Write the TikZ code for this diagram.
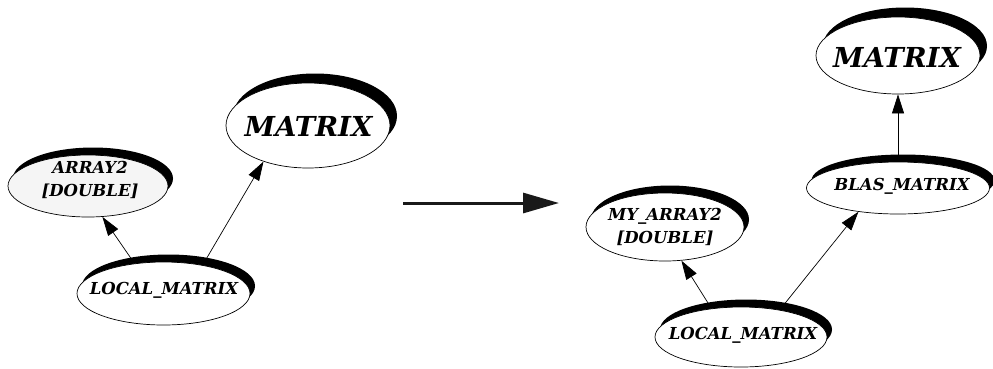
\documentclass[tikz,border=0pt]{standalone}
\usepackage{fontspec}
\setmainfont{DejaVu Serif}
\usetikzlibrary{shapes.geometric,shadows,arrows.meta}
\begin{document}
\begin{tikzpicture}[x=1pt,y=-1pt,
  oval/.style={ellipse, draw=black, line width=0.7pt, fill=white, inner sep=0pt,
    general shadow={fill=black, shadow xshift=5pt, shadow yshift=7.5pt}},
  bigoval/.style={ellipse, draw=black, line width=0.7pt, fill=white, inner sep=0pt,
    general shadow={fill=black, shadow xshift=7pt, shadow yshift=9.5pt}},
  lbl/.style={font=\bfseries\itshape\fontsize{16.5}{23}\selectfont, align=center, inner sep=0pt},
  biglbl/.style={font=\bfseries\itshape\fontsize{27.5}{32}\selectfont, inner sep=0pt},
  arr/.style={line width=0.7pt, -{Triangle[length=19pt,width=12pt]}},
  bigarr/.style={line width=3pt, draw=black!90, -{Triangle[length=36pt,width=20pt]}}]
\useasboundingbox (0,0) rectangle (993,368);
% left diagram
\node[oval, fill=black!4, minimum width=160pt, minimum height=62pt] (arrL) at (88,186) {};
\node[lbl] (arrLt) at (90,180) {ARRAY2\\{[DOUBLE]}};
\node[bigoval, minimum width=164pt, minimum height=85pt] (matL) at (308,125.5) {};
\node[biglbl] (matLt) at (308.5,126) {MATRIX};
\node[oval, minimum width=173pt, minimum height=63pt] (lmL) at (163.5,293.5) {};
\node[lbl] (lmLt) at (164,290) {LOCAL\_MATRIX};
\draw[arr] (lmL.134) -- (arrL.295);
\draw[arr] (lmL.36) -- (matL.219);
% transformation arrow
\coordinate (m1) at (403,203);
\coordinate (m2) at (559,203);
\draw[bigarr] (m1) -- (m2);
% right diagram
\node[bigoval, minimum width=164pt, minimum height=77pt] (matR) at (898,55.5) {};
\node[biglbl] (matRt) at (897,57) {MATRIX};
\node[oval, minimum width=183pt, minimum height=52pt] (blas) at (898,188) {};
\node[lbl] (blast) at (902,186) {BLAS\_MATRIX};
\node[oval, minimum width=158pt, minimum height=68pt] (myarr) at (665,227) {};
\node[lbl] (myarrt) at (665,227) {MY\_ARRAY2\\{[DOUBLE]}};
\node[oval, minimum width=172pt, minimum height=60pt] (lmR) at (741,337) {};
\node[lbl] (lmRt) at (743,335) {LOCAL\_MATRIX};
\draw[arr] (blas.north) -- (matR.south);
\draw[arr] (lmR.136) -- (myarr.296);
\draw[arr] (lmR.35) -- (blas.211);
\end{tikzpicture}
\end{document}
